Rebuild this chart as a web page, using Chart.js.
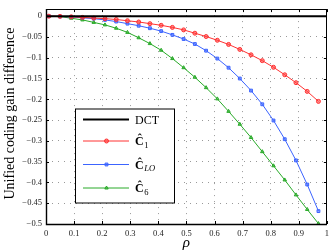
<!DOCTYPE html>
<html lang="en">
<head>
  <meta charset="UTF-8">
  <title>Unified coding gain difference</title>
  <script src="https://cdn.jsdelivr.net/npm/chart.js"></script>
  <style>
    html, body { margin: 0; padding: 0; background: #fff; }
  </style>
</head>
<body>
  <canvas id="grafico" width="334" height="252"></canvas>

  <script>
    // rho values for the sampled points
    const rho = [0.01, 0.05, 0.09, 0.13, 0.17, 0.21, 0.25, 0.29, 0.33, 0.37, 0.41, 0.45, 0.49,
                 0.53, 0.57, 0.61, 0.65, 0.69, 0.73, 0.77, 0.81, 0.85, 0.89, 0.93, 0.97];

    // coding gain difference
    const c1 = [0, -0.0005, -0.0015, -0.003, -0.0045, -0.006, -0.008, -0.011, -0.014, -0.018,
                -0.022, -0.027, -0.033, -0.041, -0.049, -0.058, -0.068, -0.080, -0.093, -0.107,
                -0.123, -0.141, -0.160, -0.181, -0.205];
    const cLO = [0, -0.0007, -0.002, -0.004, -0.006, -0.009, -0.013, -0.018, -0.023, -0.029,
                 -0.036, -0.045, -0.055, -0.067, -0.083, -0.102, -0.124, -0.150, -0.179, -0.212,
                 -0.251, -0.296, -0.347, -0.405, -0.469];
    const c6 = [0, -0.001, -0.005, -0.009, -0.015, -0.021, -0.029, -0.039, -0.052, -0.066,
                -0.082, -0.102, -0.124, -0.147, -0.172, -0.199, -0.229, -0.260, -0.292, -0.326,
                -0.360, -0.394, -0.430, -0.465, -0.499];

    // DCT reference line
    const dctRho = [0, 1];
    const dct = [0, 0];

    // tick labels
    const xTicks = [0, 0.1, 0.2, 0.3, 0.4, 0.5, 0.6, 0.7, 0.8, 0.9, 1];
    const yTicks = [0, -0.05, -0.1, -0.15, -0.2, -0.25, -0.3, -0.35, -0.4, -0.45, -0.5];

    const pontos = (xs, ys) => xs.map((x, i) => ({ x: x, y: ys[i] }));
    const fmt = v => {
      const s = String(Math.round(v * 100) / 100);
      return s.replace('-', '\u2212');
    };

    const RED = 'rgb(255,50,50)';
    const BLUE = 'rgb(60,100,255)';
    const GREEN = 'rgb(40,170,40)';
    const SERIF = "'Liberation Serif', 'DejaVu Serif', serif";
    const claro = cor => cor.replace('rgb', 'rgba').replace(')', ',0.55)');

    // frame, inner ticks, axis titles and legend
    const decoracao = {
      id: 'decoracao',
      afterDraw(chart) {
        const ctx = chart.ctx;
        const a = chart.chartArea;
        const sx = chart.scales.x, sy = chart.scales.y;
        ctx.save();
        ctx.strokeStyle = '#000';
        ctx.lineWidth = 1;
        ctx.beginPath();
        xTicks.forEach(v => {
          const px = Math.round(sx.getPixelForValue(v)) + 0.5;
          ctx.moveTo(px, a.bottom); ctx.lineTo(px, a.bottom - 3);
          ctx.moveTo(px, a.top); ctx.lineTo(px, a.top + 3);
        });
        yTicks.forEach(v => {
          const py = Math.round(sy.getPixelForValue(v)) + 0.5;
          ctx.moveTo(a.left, py); ctx.lineTo(a.left + 3, py);
          ctx.moveTo(a.right, py); ctx.lineTo(a.right - 3, py);
        });
        ctx.stroke();
        ctx.strokeRect(Math.round(a.left) + 0.5, Math.round(a.top) + 0.5,
                       Math.round(a.right - a.left) - 1, Math.round(a.bottom - a.top));
        ctx.lineWidth = 1.4;
        ctx.beginPath();
        ctx.moveTo(a.left + 0.5, a.top); ctx.lineTo(a.left + 0.5, a.bottom + 0.5);
        ctx.lineTo(a.right, a.bottom + 0.5);
        ctx.stroke();

        // axis titles
        ctx.fillStyle = '#000';
        ctx.font = '14px ' + SERIF;
        ctx.textAlign = 'center';
        ctx.textBaseline = 'middle';
        ctx.save();
        ctx.translate(10, (a.top + a.bottom) / 2 - 3);
        ctx.rotate(-Math.PI / 2);
        ctx.fillText('Unified coding gain difference', 0, 0);
        ctx.restore();
        ctx.font = 'italic 15px ' + SERIF;
        ctx.fillText('\u03C1', (a.left + a.right) / 2, 243);

        // legend
        const bx = 75, by = 108.5, bw = 99, bh = 94;
        ctx.fillStyle = '#fff';
        ctx.fillRect(bx, by, bw, bh);
        ctx.lineWidth = 1;
        ctx.strokeStyle = '#000';
        ctx.strokeRect(bx + 0.5, by + 0.5, bw, bh);
        const itens = [
          { cor: '#000', w: 2, sub: null, y: 119.5, m: null },
          { cor: RED, w: 1, sub: '1', it: false, y: 141, m: 'circle' },
          { cor: BLUE, w: 1, sub: 'LO', it: true, y: 164.5, m: 'rect' },
          { cor: GREEN, w: 1, sub: '6', it: false, y: 188, m: 'triangle' }
        ];
        itens.forEach(it => {
          ctx.strokeStyle = it.cor;
          ctx.lineWidth = it.w;
          ctx.beginPath();
          ctx.moveTo(83, it.y); ctx.lineTo(129, it.y);
          ctx.stroke();
          if (it.m) {
            ctx.fillStyle = claro(it.cor);
            Chart.helpers.drawPoint(ctx, {
              pointStyle: it.m, radius: 2, rotation: 0, borderWidth: 1
            }, 106.5, it.y);
          }
          ctx.fillStyle = '#000';
          ctx.textAlign = 'left';
          ctx.textBaseline = 'middle';
          if (!it.sub) {
            ctx.font = '12px ' + SERIF;
            ctx.fillText('DCT', 135, it.y + 1);
          } else {
            ctx.font = 'bold 12px ' + SERIF;
            ctx.fillText('\u0108', 135, it.y + 1);
            const w = ctx.measureText('\u0108').width;
            ctx.font = (it.it ? 'italic ' : '') + '8.5px ' + SERIF;
            ctx.fillText(it.sub, 135 + w + 0.5, it.y + 4.5);
          }
        });
        ctx.restore();
      }
    };

    const serie = (rotulo, ys, cor, estilo) => ({
      label: rotulo,
      data: pontos(rho, ys),
      borderColor: cor,
      backgroundColor: cor,
      borderWidth: 1,
      pointStyle: estilo,
      pointRadius: 2,
      pointBorderWidth: 1,
      pointBackgroundColor: claro(cor),
      tension: 0
    });

    const config = {
      type: 'line',
      data: {
        datasets: [
          {
            label: 'DCT',
            data: pontos(dctRho, dct),
            borderColor: '#000',
            borderWidth: 2,
            pointRadius: 0
          },
          serie('C1', c1, RED, 'circle'),
          serie('CLO', cLO, BLUE, 'rect'),
          serie('C6', c6, GREEN, 'triangle')
        ]
      },
      options: {
        responsive: false,
        animation: false,
        layout: { padding: { left: 0, top: 1, right: 1, bottom: 0 } },
        plugins: {
          legend: { display: false },
          tooltip: { enabled: false }
        },
        scales: {
          x: {
            type: 'linear',
            min: 0,
            max: 1,
            afterBuildTicks: s => { s.ticks = xTicks.map(v => ({ value: v })); },
            afterFit: s => { s.height = 28; },
            grid: { color: '#999', drawTicks: false, lineWidth: 1 },
            border: { display: false, dash: [1, 5] },
            ticks: {
              padding: 5,
              color: '#222',
              font: { family: SERIF, size: 8.5 },
              maxRotation: 0,
              callback: v => fmt(v)
            }
          },
          y: {
            type: 'linear',
            min: -0.5,
            max: 0.017,
            afterBuildTicks: s => { s.ticks = yTicks.map(v => ({ value: v })); },
            afterFit: s => { s.width = 46; },
            grid: { color: '#999', drawTicks: false, lineWidth: 1 },
            border: { display: false, dash: [1, 5] },
            ticks: {
              padding: 4,
              color: '#222',
              font: { family: SERIF, size: 8.5 },
              callback: v => fmt(v)
            }
          }
        }
      },
      plugins: [decoracao]
    };

    const ctx = document.getElementById('grafico').getContext('2d');
    new Chart(ctx, config);
  </script>
</body>
</html>
